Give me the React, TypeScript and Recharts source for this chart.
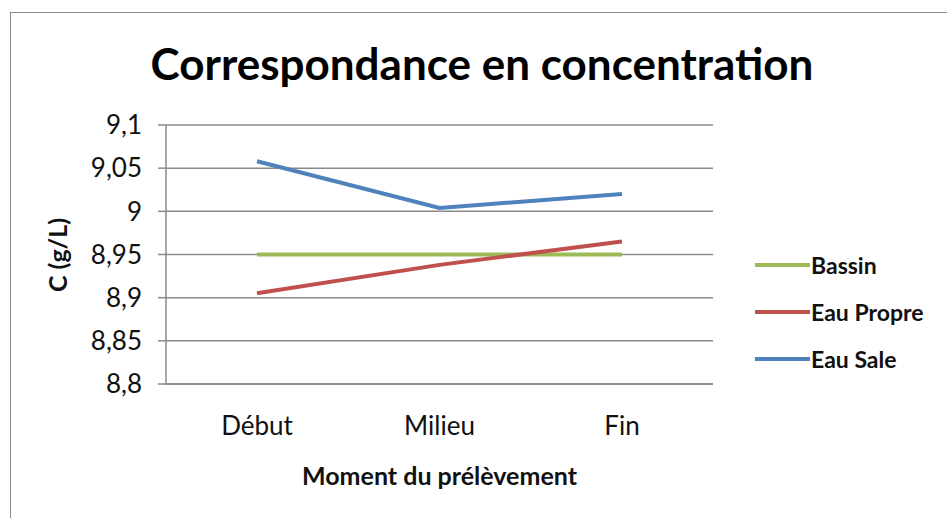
import { CartesianGrid, Label, Legend, Line, LineChart, XAxis, YAxis } from "recharts"

const moments = ["Début", "Milieu", "Fin"]
const bassin = [8.95, 8.95, 8.95]
const eauPropre = [8.905, 8.938, 8.965]
const eauSale = [9.058, 9.004, 9.02]
const yTicks = [8.8, 8.85, 8.9, 8.95, 9, 9.05, 9.1]

const data = moments.map((m, i) => ({
  moment: m,
  Bassin: bassin[i],
  "Eau Propre": eauPropre[i],
  "Eau Sale": eauSale[i],
}))

const font = "Lato, 'DejaVu Sans', sans-serif"
const grey = "#8a8a8a"

function LegendBox(props: any) {
  const items = props.payload || []
  return (
    <div style={{ fontFamily: font }}>
      {items.map((it: any) => (
        <div key={it.value} style={{ height: 47, display: "flex", alignItems: "center" }}>
          <span style={{ display: "inline-block", width: 55, height: 4, background: it.color, marginRight: 1 }} />
          <span style={{ fontSize: 23, fontWeight: 700, color: "#111" }}>{it.value}</span>
        </div>
      ))}
    </div>
  )
}

export default function App() {
  return (
    <div style={{ position: "absolute", left: 0, top: 0, width: 947, height: 518, overflow: "hidden", background: "#fff" }}>
      <div
        style={{
          position: "absolute",
          left: 10,
          top: 12,
          width: 960,
          height: 540,
          border: "1.5px solid #8c8c8c",
        }}
      />
      <div
        style={{
          position: "absolute",
          left: 0,
          top: 38,
          width: 964,
          textAlign: "center",
          fontFamily: font,
          fontWeight: 700,
          fontSize: 44,
          lineHeight: "50px",
          color: "#000",
        }}
      >
        Correspondance en concentration
      </div>
      <div style={{ position: "absolute", left: 0, top: 0 }}>
        <LineChart width={947} height={518} data={data} margin={{ top: 125, right: 234, bottom: 0, left: 0 }}>
          <CartesianGrid vertical={false} stroke={grey} strokeWidth={1.5} />
          <XAxis
            dataKey="moment"
            height={134}
            padding={{ left: 91, right: 91 }}
            tickLine={false}
            tickSize={0}
            tickMargin={33}
            stroke={grey}
            strokeWidth={1.5}
            tick={{ fill: "#111", fontSize: 26, fontFamily: font }}
          >
            <Label
              value="Moment du prélèvement"
              position="insideTop"
              offset={83}
              style={{ fill: "#111", fontSize: 25, fontWeight: 700, fontFamily: font }}
            />
          </XAxis>
          <YAxis
            width={166}
            domain={[8.8, 9.1]}
            ticks={yTicks}
            interval={0}
            tickSize={8}
            tickMargin={16}
            stroke={grey}
            strokeWidth={1.5}
            tickFormatter={(v) => String(v).replace(".", ",")}
            tick={{ fill: "#111", fontSize: 26, fontFamily: font }}
          >
            <Label
              content={() => (
                <text
                  x={57}
                  y={255}
                  transform="rotate(-90 57 255)"
                  textAnchor="middle"
                  dominantBaseline="central"
                  style={{ fill: "#111", fontSize: 25, fontWeight: 700, fontFamily: font }}
                >
                  C (g/L)
                </text>
              )}
            />
          </YAxis>
          <Legend
            layout="vertical"
            align="center"
            verticalAlign="middle"
            wrapperStyle={{ left: 755, top: 241, width: 190 }}
            content={<LegendBox />}
          />
          <Line dataKey="Bassin" stroke="#9BBB59" strokeWidth={4} dot={false} isAnimationActive={false} />
          <Line dataKey="Eau Propre" stroke="#C0504D" strokeWidth={4} dot={false} isAnimationActive={false} />
          <Line dataKey="Eau Sale" stroke="#4F81BD" strokeWidth={4} dot={false} isAnimationActive={false} />
        </LineChart>
      </div>
    </div>
  )
}
